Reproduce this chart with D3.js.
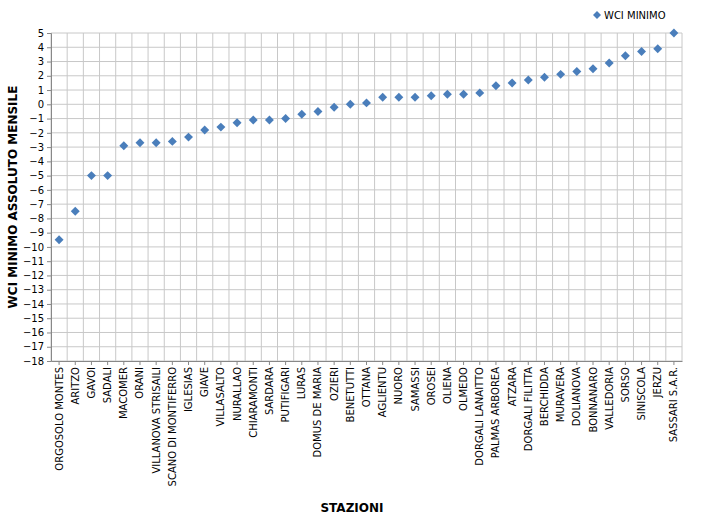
<!DOCTYPE html>
<html><head><meta charset="utf-8">
<script src="https://cdn.jsdelivr.net/npm/d3@7/dist/d3.min.js"></script>
<style>body{margin:0;background:#fff;font-family:Verdana,"DejaVu Sans",sans-serif}</style>
</head><body><svg id="chart" width="701" height="519"></svg>
<script>
var stazioni = ["ORGOSOLO MONTES","ARITZO","GAVOI","SADALI","MACOMER","ORANI","VILLANOVA STRISAILI","SCANO DI MONTIFERRO","IGLESIAS","GIAVE","VILLASALTO","NURALLAO","CHIARAMONTI","SARDARA","PUTIFIGARI","LURAS","DOMUS DE MARIA","OZIERI","BENETUTTI","OTTANA","AGLIENTU","NUORO","SAMASSI","OROSEI","OLIENA","OLMEDO","DORGALI LANAITTO","PALMAS ARBOREA","ATZARA","DORGALI FILITTA","BERCHIDDA","MURAVERA","DOLIANOVA","BONNANARO","VALLEDORIA","SORSO","SINISCOLA","JERZU","SASSARI S.A.R."];
var wciMinimo = [-9.5,-7.5,-5,-5,-2.9,-2.7,-2.7,-2.6,-2.3,-1.8,-1.6,-1.3,-1.1,-1.1,-1.0,-0.7,-0.5,-0.2,0,0.1,0.5,0.5,0.5,0.6,0.7,0.7,0.8,1.3,1.5,1.7,1.9,2.1,2.3,2.5,2.9,3.4,3.7,3.9,5.0];
var yTicks = d3.range(-18, 6, 1);

var svg = d3.select('#chart');
var pLeft = 51, pRight = 682, pTop = 33, pBottom = 361;
var x = d3.scaleBand().domain(stazioni).range([pLeft, pRight]);
var y = d3.scaleLinear().domain([-18, 5]).range([pBottom, pTop]);

// grid
svg.append('g').selectAll('line').data(yTicks).enter().append('line')
	.attr('x1', pLeft).attr('x2', pRight)
	.attr('y1', function(d){ return y(d); }).attr('y2', function(d){ return y(d); })
	.attr('stroke', '#c8c8c8').attr('stroke-width', 1);
svg.append('g').selectAll('line').data(stazioni.concat(['__end'])).enter().append('line')
	.attr('x1', function(d, i){ return pLeft + i * x.step(); })
	.attr('x2', function(d, i){ return pLeft + i * x.step(); })
	.attr('y1', pTop).attr('y2', pBottom)
	.attr('stroke', '#c8c8c8').attr('stroke-width', 1);

// axes
var yAxis = d3.axisLeft(y).tickValues(yTicks).tickSize(4).tickFormat(d3.format('d'));
var gy = svg.append('g').attr('transform', 'translate(' + pLeft + ',0)').call(yAxis);
gy.select('.domain').attr('stroke', '#888');
gy.selectAll('.tick line').attr('stroke', '#888');
gy.selectAll('text').attr('font-size', 10).attr('fill', '#000').attr('font-family', 'Verdana, DejaVu Sans, sans-serif');

var xAxis = d3.axisBottom(x).tickSize(4).tickSizeOuter(0);
var gx = svg.append('g').attr('transform', 'translate(0,' + pBottom + ')').call(xAxis);
gx.select('.domain').attr('stroke', '#888');
gx.selectAll('.tick line').attr('stroke', '#888');
gx.selectAll('text')
	.attr('font-size', 10).attr('fill', '#000').attr('font-family', 'Verdana, DejaVu Sans, sans-serif')
	.attr('transform', 'rotate(-90)')
	.attr('text-anchor', 'end').attr('dx', '-0.6em').attr('dy', '0.35em').attr('x', 0).attr('y', 0);

// points
svg.append('g').selectAll('path').data(wciMinimo).enter().append('path')
	.attr('d', d3.symbol().type(d3.symbolSquare).size(40))
	.attr('transform', function(d, i){ return 'translate(' + (x(stazioni[i]) + x.bandwidth() / 2) + ',' + y(d) + ') rotate(45)'; })
	.attr('fill', '#4a7ebb');

// titles
svg.append('text').attr('x', 352).attr('y', 512).attr('text-anchor', 'middle')
	.attr('font-size', 12).attr('font-weight', 'bold').text('STAZIONI');
svg.append('text').attr('transform', 'translate(17,' + ((pTop + pBottom) / 2) + ') rotate(-90)')
	.attr('text-anchor', 'middle').attr('font-size', 12).attr('font-weight', 'bold')
	.text('WCI MINIMO ASSOLUTO MENSILE');

// legend
svg.append('path').attr('d', d3.symbol().type(d3.symbolSquare).size(32))
	.attr('transform', 'translate(597,15) rotate(45)').attr('fill', '#4a7ebb');
svg.append('text').attr('x', 604).attr('y', 19).attr('font-size', 10).text('WCI MINIMO');
</script></body></html>
